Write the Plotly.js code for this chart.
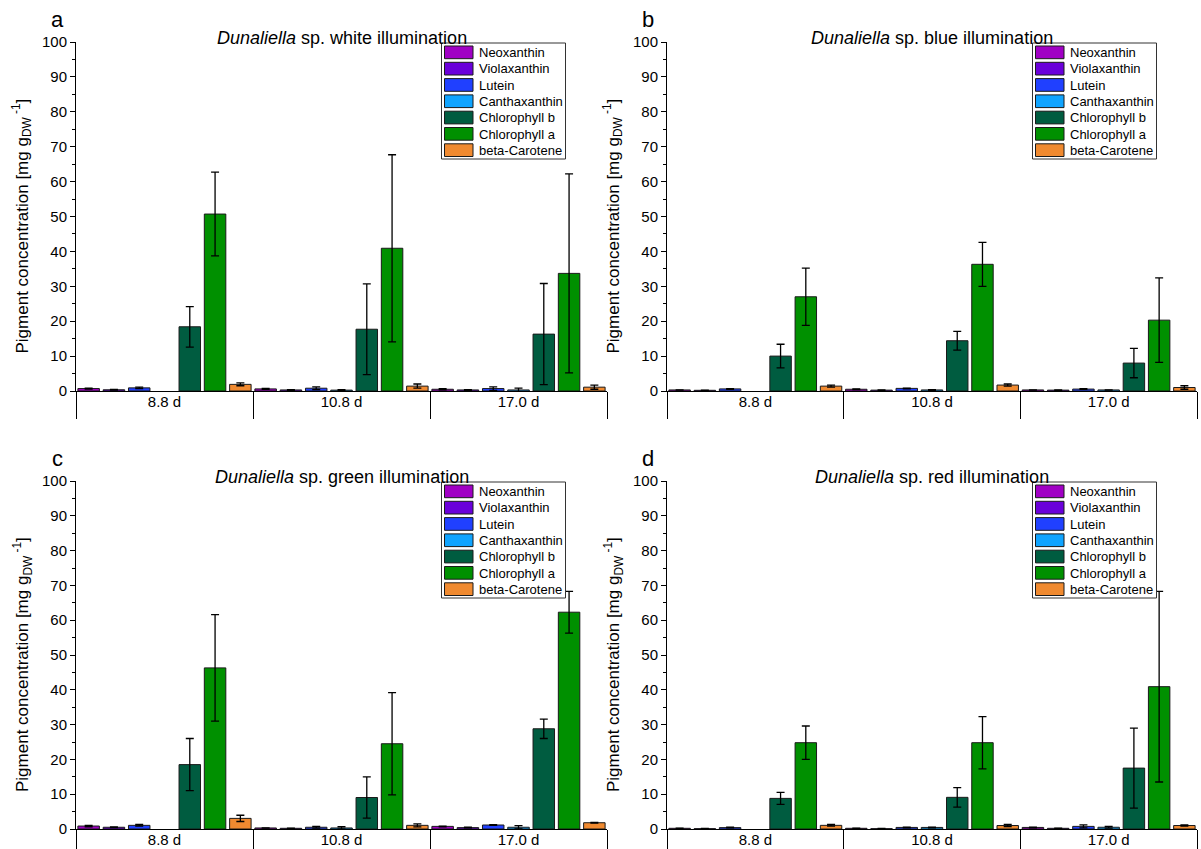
<!DOCTYPE html>
<html>
<head>
<meta charset="utf-8">
<script src="https://cdn.plot.ly/plotly-3.0.1.min.js"></script>
<style>html,body{margin:0;padding:0;background:#fff}#chart{width:1201px;height:849px}</style>
</head>
<body>
<div id="chart"></div>
<script>
// ---------------- DATA ----------------
const days = ["8.8 d", "10.8 d", "17.0 d"];
const pigments = ["Neoxanthin", "Violaxanthin", "Lutein", "Canthaxanthin", "Chlorophyll b", "Chlorophyll a", "beta-Carotene"];
const illuminations = ["white", "blue", "green", "red"];
const panelLetters = ["a", "b", "c", "d"];
const yTitle = "Pigment concentration [mg g<sub>DW</sub><sup> -1</sup>]";

// rows follow the pigments order, columns follow days
const whiteValues = [
  [0.7, 0.6, 0.5],
  [0.35, 0.3, 0.3],
  [0.9, 0.8, 0.7],
  [null, 0.25, 0.3],
  [18.4, 17.7, 16.3],
  [50.7, 40.9, 33.7],
  [1.9, 1.4, 1.1]
];
const whiteErrors = [
  [0.15, 0.15, 0.15],
  [0.1, 0.1, 0.1],
  [0.2, 0.4, 0.5],
  [0, 0.15, 0.5],
  [5.8, 13.0, 14.5],
  [12.0, 26.8, 28.5],
  [0.4, 0.6, 0.6]
];
const blueValues = [
  [0.3, 0.5, 0.3],
  [0.2, 0.25, 0.25],
  [0.6, 0.75, 0.55],
  [null, 0.3, 0.3],
  [10.0, 14.4, 8.0],
  [27.0, 36.3, 20.3],
  [1.4, 1.7, 1.0]
];
const blueErrors = [
  [0.05, 0.1, 0.05],
  [0.05, 0.05, 0.05],
  [0.1, 0.1, 0.1],
  [0, 0.1, 0.05],
  [3.4, 2.7, 4.2],
  [8.2, 6.3, 12.1],
  [0.3, 0.3, 0.5]
];
const greenValues = [
  [0.85, 0.3, 0.75],
  [0.5, 0.2, 0.4],
  [1.05, 0.5, 1.15],
  [null, 0.3, 0.5],
  [18.5, 9.05, 28.8],
  [46.3, 24.5, 62.3],
  [3.05, 1.05, 1.8]
];
const greenErrors = [
  [0.2, 0.05, 0.1],
  [0.1, 0.05, 0.1],
  [0.25, 0.25, 0.1],
  [0, 0.35, 0.45],
  [7.5, 5.9, 2.8],
  [15.3, 14.7, 6.0],
  [0.9, 0.45, 0.1]
];
const redValues = [
  [0.2, 0.2, 0.45],
  [0.1, 0.1, 0.2],
  [0.4, 0.45, 0.75],
  [null, 0.45, 0.5],
  [8.8, 9.1, 17.5],
  [24.8, 24.8, 40.9],
  [1.05, 1.0, 1.0]
];
const redErrors = [
  [0.05, 0.05, 0.1],
  [0.05, 0.05, 0.05],
  [0.1, 0.1, 0.45],
  [0, 0.1, 0.25],
  [1.7, 2.8, 11.5],
  [4.8, 7.5, 27.4],
  [0.25, 0.3, 0.2]
];

// ---------------- STYLE ----------------
const pigmentColors = ["#A000C4", "#6A00DA", "#2040FF", "#10A4FF", "#005C40", "#009000", "#F08A30"];
const FONT = 'Arial, "Liberation Sans", sans-serif';
const W = 1201, H = 849;
const px = x => x / W;
const py = y => 1 - y / H;

const allValues = [whiteValues, blueValues, greenValues, redValues];
const allErrors = [whiteErrors, blueErrors, greenErrors, redErrors];

// pixel geometry of each panel
const panels = [
  {left: 76, right: 607, zero: 391, top: 42},
  {left: 667, right: 1197, zero: 391, top: 42},
  {left: 76, right: 607, zero: 829, top: 481},
  {left: 667, right: 1197, zero: 829, top: 481}
];

const traces = [];
const layout = {
  width: W, height: H,
  margin: {l: 0, r: 0, t: 0, b: 0},
  paper_bgcolor: "#fff", plot_bgcolor: "#fff",
  barmode: "group", bargap: 0, bargroupgap: 0.15,
  showlegend: false,
  font: {family: FONT, color: "#000"},
  shapes: [], annotations: []
};

panels.forEach((p, k) => {
  const sfx = k === 0 ? "" : String(k + 1);
  const xa = "x" + sfx, ya = "y" + sfx;
  pigments.forEach((name, i) => {
    traces.push({
      type: "bar", name: name, x: days, y: allValues[k][i],
      xaxis: xa, yaxis: ya,
      marker: {color: pigmentColors[i], line: {color: "#1a1a1a", width: 1}},
      error_y: {type: "data", array: allErrors[k][i], visible: true, color: "#000", thickness: 1.3, width: 4},
      hoverinfo: "name+y"
    });
  });
  layout["xaxis" + sfx] = {
    domain: [px(p.left), px(p.right)], anchor: ya,
    type: "category", range: [-0.5, 2.5],
    tickson: "boundaries", ticks: "outside", ticklen: 27, tickwidth: 1, tickcolor: "#000",
    showline: true, linecolor: "#000", linewidth: 1, showgrid: false, zeroline: false,
    tickfont: {size: 15, family: FONT}, ticklabelstandoff: -3, fixedrange: true
  };
  layout["yaxis" + sfx] = {
    domain: [py(p.zero), py(p.top)], anchor: xa,
    range: [0, 100], tick0: 0, dtick: 10,
    ticks: "outside", ticklen: 5, tickwidth: 1, tickcolor: "#000",
    minor: {dtick: 5, ticks: "outside", ticklen: 3, tickcolor: "#000", showgrid: false},
    showline: true, linecolor: "#000", linewidth: 1, showgrid: false, zeroline: false,
    tickfont: {size: 15, family: FONT}, fixedrange: true
  };
  // y-axis title
  layout.annotations.push({
    xref: "paper", yref: "paper", x: px(p.left - 54), y: py((p.zero + p.top) / 2 + 10),
    xanchor: "center", yanchor: "middle", showarrow: false, textangle: -90,
    text: yTitle, font: {size: 17, family: FONT}
  });
  // panel letter
  layout.annotations.push({
    xref: "paper", yref: "paper", x: px(p.left - 19), y: py(p.top - 22),
    xanchor: "center", yanchor: "middle", showarrow: false,
    text: panelLetters[k], font: {size: 22, family: FONT}
  });
  // panel title
  layout.annotations.push({
    xref: "paper", yref: "paper", x: px((p.left + p.right) / 2), y: py(p.top - 4),
    xanchor: "center", yanchor: "middle", showarrow: false,
    text: "<i>Dunaliella</i> sp. " + illuminations[k] + " illumination", font: {size: 18, family: FONT}
  });
  // legend box
  const lx0 = p.left + 365.5, lx1 = p.left + 489.5, ly0 = p.top + 1, ly1 = p.top + 117;
  layout.shapes.push({
    type: "rect", xref: "paper", yref: "paper", layer: "above",
    x0: px(lx0), x1: px(lx1), y0: py(ly1), y1: py(ly0),
    fillcolor: "#fff", line: {color: "#333", width: 1}
  });
  pigments.forEach((name, i) => {
    const sy = p.top + 4 + 16.3 * i;
    layout.shapes.push({
      type: "rect", xref: "paper", yref: "paper", layer: "above",
      x0: px(p.left + 368.5), x1: px(p.left + 397), y0: py(sy + 12.7), y1: py(sy),
      fillcolor: pigmentColors[i], line: {color: "#1a1a1a", width: 1}
    });
    layout.annotations.push({
      xref: "paper", yref: "paper", x: px(p.left + 401), y: py(sy + 6.5),
      xanchor: "left", yanchor: "middle", showarrow: false,
      text: name, font: {size: 13, family: FONT}
    });
  });
});

Plotly.newPlot("chart", traces, layout, {displayModeBar: false, staticPlot: true});
</script>
</body>
</html>
